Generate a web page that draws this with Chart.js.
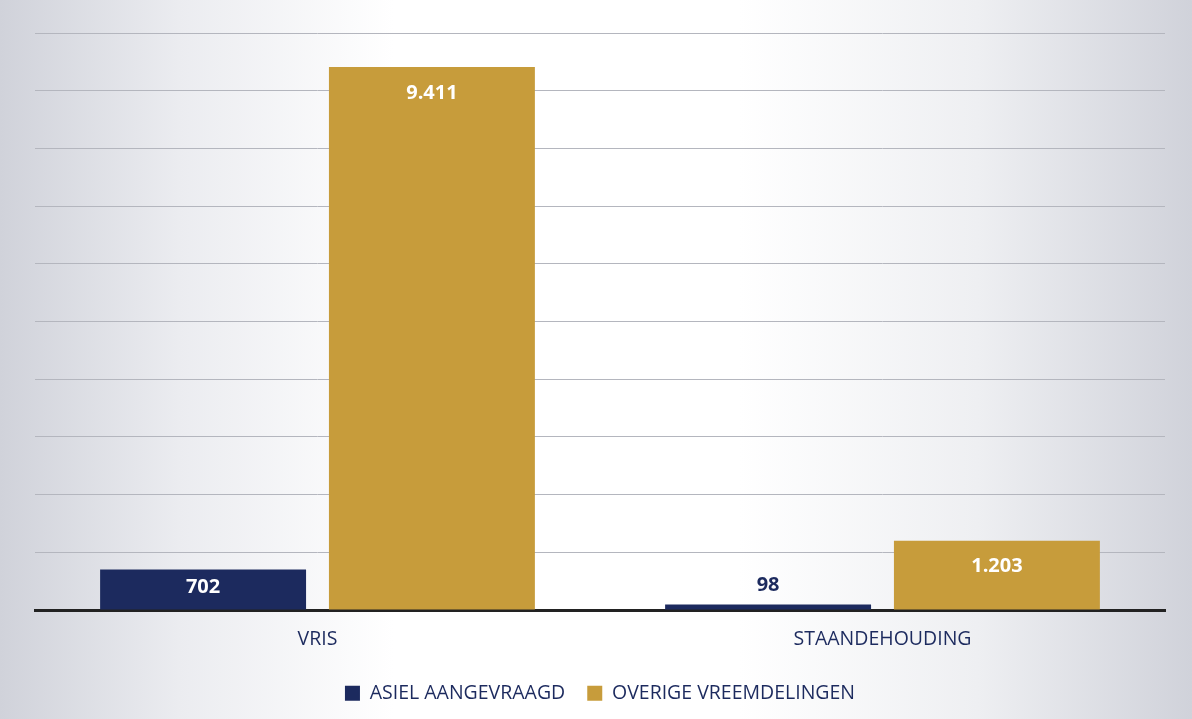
<!DOCTYPE html>
<html>
<head>
<meta charset="utf-8">
<script src="https://cdn.jsdelivr.net/npm/chart.js@4"></script>
<style>
  html, body { margin: 0; padding: 0; background: #fff; }
  #wrap { width: 1192px; height: 719px; }
</style>
</head>
<body>
<div id="wrap"><canvas id="bar-chart" width="1192" height="719"></canvas></div>
<script>
// chart data
const categories = ['VRIS', 'STAANDEHOUDING'];
const seriesNames = ['ASIEL AANGEVRAAGD', 'OVERIGE VREEMDELINGEN'];
const asielValues = [702, 98];
const overigeValues = [9411, 1203];

const navy = '#1c2a5e';
const gold = '#c79c3b';

// grey-ish photo background: darker at the sides, white in the middle
const backgroundPlugin = {
  id: 'bg',
  beforeDraw(chart) {
    const ctx = chart.ctx;
    const w = chart.width, h = chart.height;
    const g = ctx.createLinearGradient(0, 0, w, 0);
    g.addColorStop(0, '#d0d2da');
    g.addColorStop(0.15, '#ebecf0');
    g.addColorStop(0.33, '#ffffff');
    g.addColorStop(0.62, '#ffffff');
    g.addColorStop(0.82, '#eeeff2');
    g.addColorStop(1, '#d0d2da');
    ctx.save();
    ctx.fillStyle = g;
    ctx.fillRect(0, 0, w, h);
    ctx.restore();
  }
};

// value labels (Dutch thousands separator)
const labelPlugin = {
  id: 'valueLabels',
  afterDatasetsDraw(chart) {
    const ctx = chart.ctx;
    ctx.save();
    ctx.font = 'bold 20px "Open Sans", sans-serif';
    ctx.textAlign = 'center';
    ctx.textBaseline = 'middle';
    chart.data.datasets.forEach((ds, i) => {
      chart.getDatasetMeta(i).data.forEach((bar, j) => {
        const v = ds.data[j];
        const txt = v.toLocaleString('nl-NL');
        const height = bar.base - bar.y;
        if (height < 25) {
          ctx.fillStyle = navy;
          ctx.fillText(txt, bar.x, bar.y - 19);
        } else {
          ctx.fillStyle = '#ffffff';
          ctx.fillText(txt, bar.x, bar.y + Math.min(26, height / 2 - 2));
        }
      });
    });
    ctx.restore();
  }
};

const chartCanvas = document.querySelector('#bar-chart');

const barChart = new Chart(chartCanvas, {
  type: 'bar',
  data: {
    labels: categories,
    datasets: [
      {
        label: seriesNames[0],
        data: asielValues,
        backgroundColor: navy,
        categoryPercentage: 0.81,
        barPercentage: 0.9
      },
      {
        label: seriesNames[1],
        data: overigeValues,
        backgroundColor: gold,
        categoryPercentage: 0.81,
        barPercentage: 0.9
      }
    ]
  },
  options: {
    responsive: false,
    animation: false,
    layout: {
      padding: { left: 35, right: 27, top: 33, bottom: 6 }
    },
    plugins: {
      tooltip: { enabled: false },
      legend: {
        position: 'bottom',
        labels: {
          color: navy,
          boxWidth: 15,
          boxHeight: 15,
          padding: 22,
          font: { size: 19.5, family: '"Open Sans", sans-serif' }
        }
      }
    },
    scales: {
      x: {
        grid: { display: false },
        border: { color: '#222222', width: 3 },
        ticks: {
          color: navy,
          padding: 10,
          font: { size: 19.5, family: '"Open Sans", sans-serif' }
        }
      },
      y: {
        min: 0,
        max: 10000,
        ticks: { display: false, stepSize: 1000 },
        border: { display: false },
        grid: { color: '#b4b6be', lineWidth: 1, drawTicks: false }
      }
    }
  },
  plugins: [backgroundPlugin, labelPlugin]
});
</script>
</body>
</html>
